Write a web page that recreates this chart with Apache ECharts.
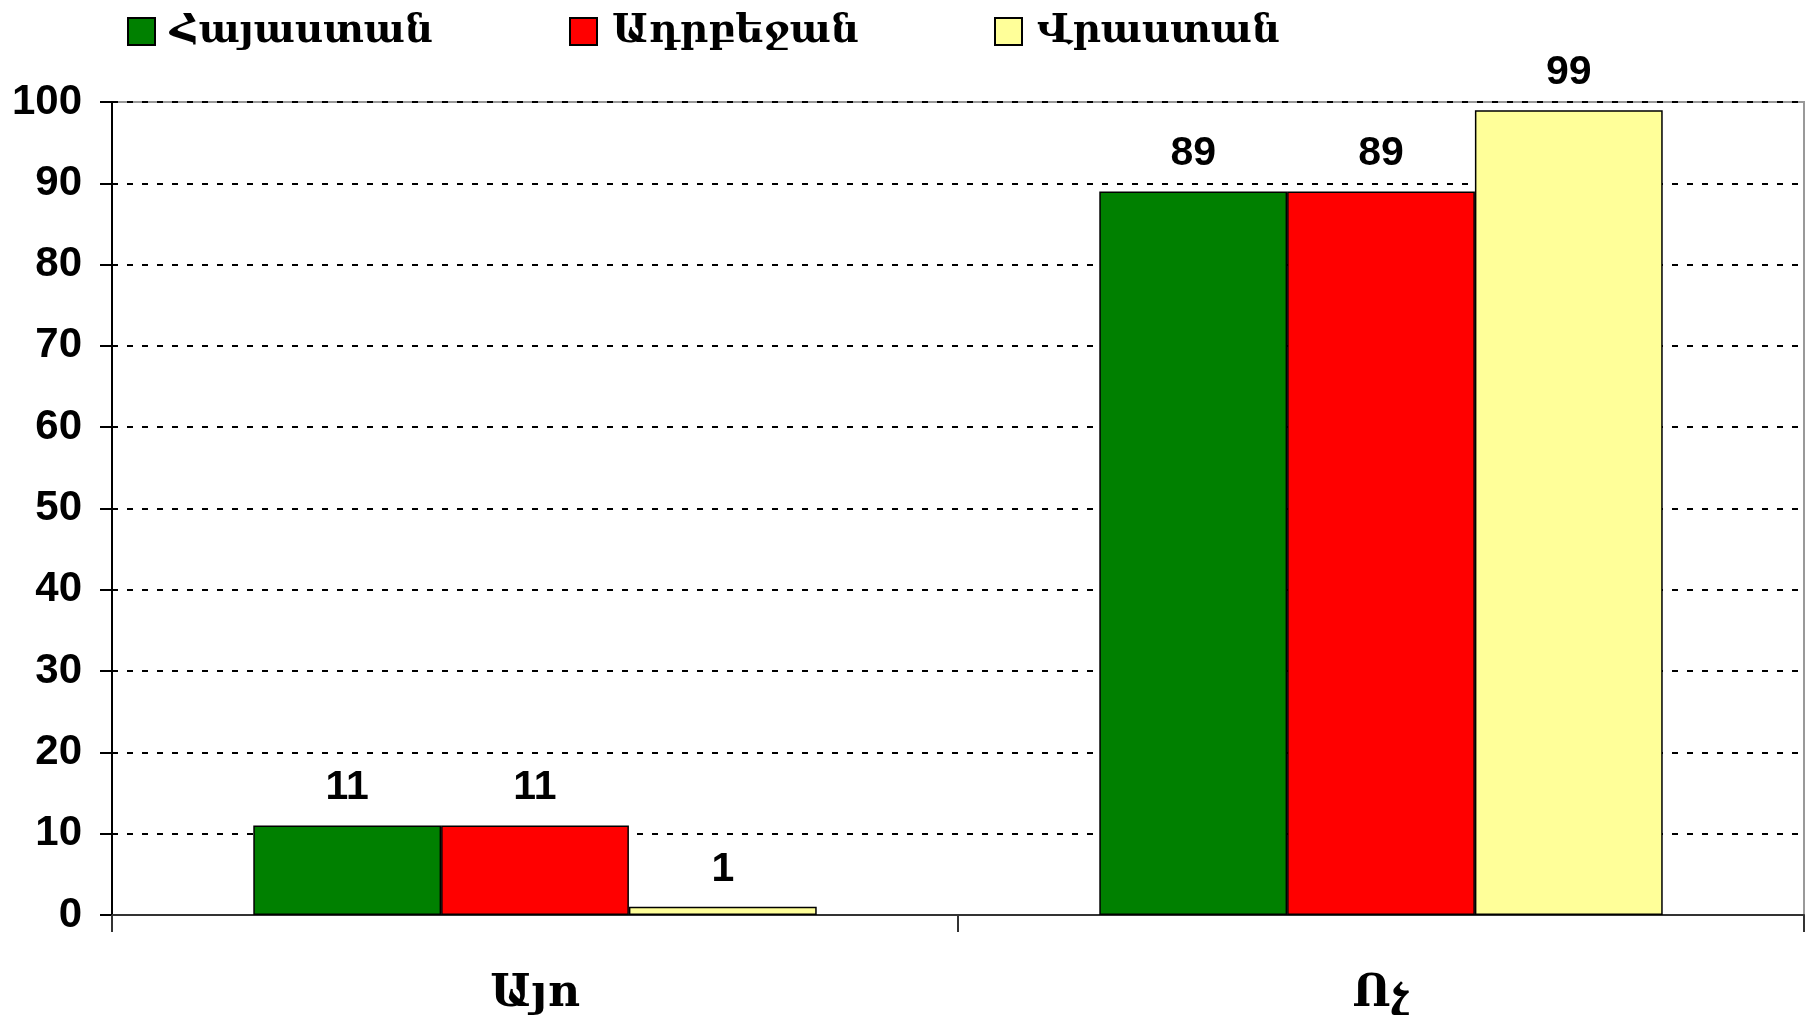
<!DOCTYPE html>
<html>
<head>
<meta charset="utf-8">
<script src="https://cdn.jsdelivr.net/npm/echarts@6/dist/echarts.min.js"></script>
<style>
  html, body { margin: 0; padding: 0; background: #fff; }
  #chart { width: 1812px; height: 1021px; }
</style>
</head>
<body>
<div id="chart"></div>
<script>
// data
const categories = ['Այո', 'Ոչ']
const seriesNames = ['Հայաստան', 'Ադրբեջան', 'Վրաստան']
const armenia = [11, 89]
const azerbaijan = [11, 89]
const georgia = [1, 99]
const yTicks = { min: 0, max: 100, interval: 10 }

const colors = ['#008000', '#ff0000', '#ffff99']
const armFont = 'DejaVu Serif'
const numFont = 'Liberation Sans'

const chart = echarts.init(document.getElementById('chart'))

const makeSeries = (name, data, color) => ({
  name,
  type: 'bar',
  data,
  barGap: '0%',
  barCategoryGap: '33.4%',
  itemStyle: { color, borderColor: '#000', borderWidth: 1.5 },
  label: {
    show: true,
    position: 'top',
    distance: 17,
    color: '#000',
    fontFamily: numFont,
    fontWeight: 'bold',
    fontSize: 41
  }
})

const legendAt = (name, left) => ({
  data: [name],
  left,
  top: 7,
  itemWidth: 27,
  itemHeight: 27,
  icon: 'rect',
  textStyle: { fontFamily: armFont, fontWeight: 'bold', fontSize: 39, color: '#000', padding: [0, 0, 0, 10] }
})

const option = {
  animation: false,
  backgroundColor: '#fff',
  legend: [
    legendAt(seriesNames[0], 122),
    legendAt(seriesNames[1], 564),
    legendAt(seriesNames[2], 989)
  ],
  grid: {
    left: 112,
    right: 8,
    top: 102,
    bottom: 106,
    show: true,
    borderColor: '#999',
    borderWidth: 2
  },
  xAxis: {
    type: 'category',
    data: categories,
    axisLine: { lineStyle: { color: '#333', width: 2 } },
    axisTick: { show: true, length: 17, lineStyle: { color: '#333', width: 2 } },
    axisLabel: {
      margin: 58,
      color: '#000',
      fontFamily: armFont,
      fontWeight: 'bold',
      fontSize: 44
    }
  },
  yAxis: {
    type: 'value',
    min: yTicks.min,
    max: yTicks.max,
    interval: yTicks.interval,
    axisLine: { show: true, lineStyle: { color: '#000', width: 2 } },
    axisTick: { show: true, length: 12, lineStyle: { color: '#000', width: 2 } },
    axisLabel: {
      margin: 30,
      color: '#000',
      fontFamily: numFont,
      fontWeight: 'bold',
      fontSize: 42
    },
    splitLine: { lineStyle: { color: '#000', type: [6, 9], width: 2 } }
  },
  series: [
    makeSeries(seriesNames[0], armenia, colors[0]),
    makeSeries(seriesNames[1], azerbaijan, colors[1]),
    makeSeries(seriesNames[2], georgia, colors[2])
  ]
}

chart.setOption(option)

window.addEventListener('resize', () => {
  chart.resize()
})
</script>
</body>
</html>
